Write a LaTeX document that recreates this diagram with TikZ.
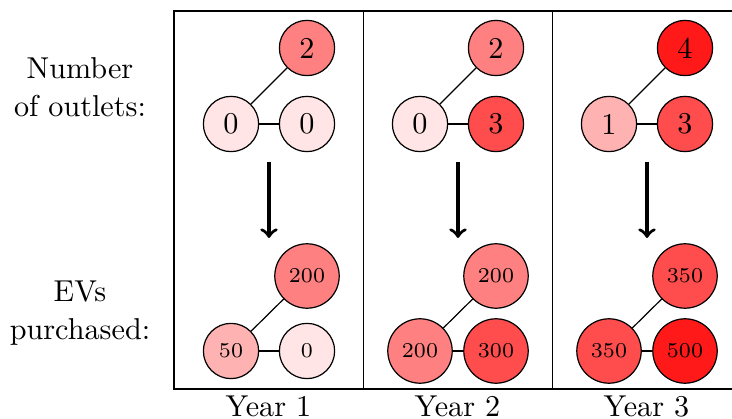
\documentclass[tikz,border=0pt]{standalone}
\usetikzlibrary{calc}
\begin{document}
\begin{tikzpicture}[x=0.3311pt,y=-0.3311pt,
  outl/.style={circle,draw,minimum size=18.3pt,inner sep=3.15pt,font=\normalsize},
  evn/.style={circle,draw,minimum size=18.3pt,inner sep=3.15pt,font=\scriptsize},
  ca/.style={fill=red!10},
  cb/.style={fill=red!30},
  cc/.style={fill=red!50},
  cd/.style={fill=red!70},
  ce/.style={fill=red!90},
  lnk/.style={draw},
  flow/.style={->,line width=1.1pt},
  sidelab/.style={align=center,font=\fontsize{10}{12.6}\selectfont},
  yearlab/.style={anchor=base,inner sep=0pt}]
\clip (0,0) rectangle (732,419);
\draw (174,11) rectangle (741,389);
\draw (363.5,11) -- (363.5,389);
\draw (552.5,11) -- (552.5,389);
% side labels
\node[sidelab] (lab1) at (80,87) {Number\\of outlets:};
\node[sidelab] (lab2) at (80,313) {EVs\\purchased:};
% Year 1
\node[outl,cc] (t1) at (307,48) {2};
\node[outl,ca] (l1) at (231,124) {0};
\node[outl,ca] (r1) at (307,124) {0};
\node[evn,cc] (et1) at (307,276) {200};
\node[evn,cb] (el1) at (231,351) {50};
\node[evn,ca] (er1) at (307,351) {0};
% Year 2
\node[outl,cc] (t2) at (496,48) {2};
\node[outl,ca] (l2) at (420,124) {0};
\node[outl,cd] (r2) at (496,124) {3};
\node[evn,cc] (et2) at (496,276) {200};
\node[evn,cc] (el2) at (420,351) {200};
\node[evn,cd] (er2) at (496,351) {300};
% Year 3
\node[outl,ce] (t3) at (685,48) {4};
\node[outl,cb] (l3) at (609,124) {1};
\node[outl,cd] (r3) at (685,124) {3};
\node[evn,cd] (et3) at (685,276) {350};
\node[evn,cd] (el3) at (609,351) {350};
\node[evn,ce] (er3) at (685,351) {500};
% links
\foreach \i in {1,2,3}{
  \draw[lnk] (l\i) -- (t\i);
  \draw[lnk] (l\i) -- (r\i);
  \draw[lnk] (el\i) -- (et\i);
  \draw[lnk] (el\i) -- (er\i);
}
% arrows
\coordinate (s1) at (269,162); \coordinate (e1) at (269,238);
\coordinate (s2) at (458,162); \coordinate (e2) at (458,238);
\coordinate (s3) at (647,162); \coordinate (e3) at (647,238);
\draw[flow] (s1) -- (e1);
\draw[flow] (s2) -- (e2);
\draw[flow] (s3) -- (e3);
% year labels
\node[yearlab] (y1) at (268.5,416.5) {Year 1};
\node[yearlab] (y2) at (457.5,416.5) {Year 2};
\node[yearlab] (y3) at (646.5,416.5) {Year 3};
\end{tikzpicture}
\end{document}
